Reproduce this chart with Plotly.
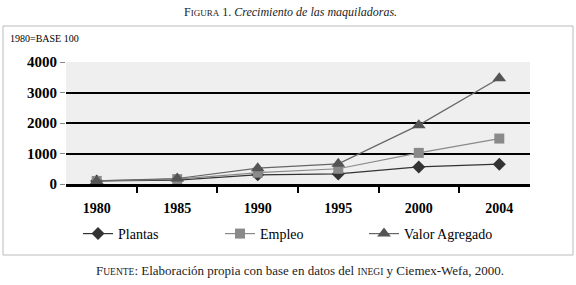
import plotly.graph_objects as go

years = ["1980", "1985", "1990", "1995", "2000", "2004"]
plantas = [100, 130, 300, 330, 560, 650]
empleo = [100, 160, 370, 500, 1020, 1490]
valor_agregado = [100, 180, 520, 660, 1930, 3470]
y_ticks = [0, 1000, 2000, 3000, 4000]

SERIF = "Liberation Serif, Times New Roman, serif"
L, R, T, B = 66, 46, 62, 101
PW, PH = 576 - L - R, 285 - T - B


def px_x(x):
    return (x - L) / PW


def px_y(y):
    return (285 - B - y) / PH


fig = go.Figure()
fig.add_trace(go.Scatter(x=years, y=plantas, name="Plantas", mode="lines+markers",
                         line=dict(color="#333333", width=1.2), legend="legend",
                         marker=dict(symbol="diamond", size=10, color="#333333")))
fig.add_trace(go.Scatter(x=years, y=empleo, name="Empleo", mode="lines+markers",
                         line=dict(color="#8a8a8a", width=1.2), legend="legend2",
                         marker=dict(symbol="square", size=10, color="#8a8a8a")))
fig.add_trace(go.Scatter(x=years, y=valor_agregado, name="Valor Agregado", mode="lines+markers",
                         line=dict(color="#666666", width=1.2), legend="legend3",
                         marker=dict(symbol="triangle-up", size=12, color="#555555")))

leg_common = dict(orientation="h", yanchor="middle", y=px_y(234), xanchor="left",
                  font=dict(family=SERIF, size=14, color="black"),
                  bgcolor="rgba(0,0,0,0)")

fig.update_layout(
    template="none",
    width=576, height=285,
    margin=dict(l=L, r=R, t=T, b=B, autoexpand=False),
    paper_bgcolor="white",
    plot_bgcolor="#efefef",
    font=dict(family=SERIF, color="black", size=13),
    showlegend=True,
    legend=dict(x=px_x(78), **leg_common),
    legend2=dict(x=px_x(220), **leg_common),
    legend3=dict(x=px_x(364), **leg_common),
    xaxis=dict(type="category", tickson="boundaries", ticks="outside", ticklen=6,
               tickwidth=2, tickcolor="black", showline=True, linecolor="black",
               linewidth=2.5, showgrid=False, ticklabelstandoff=9, automargin=False,
               tickfont=dict(family=SERIF, size=14, color="black", weight="bold")),
    yaxis=dict(range=[0, 4000], tickvals=y_ticks, ticks="outside", ticklen=5,
               tickwidth=1, tickcolor="#888888", automargin=False,
               showgrid=True, gridcolor="black", gridwidth=2,
               zeroline=True, zerolinecolor="black", zerolinewidth=3,
               showline=False,
               tickfont=dict(family=SERIF, size=15, color="black", weight="bold")),
)

# outer frame
fig.add_shape(type="rect", xref="paper", yref="paper",
              x0=px_x(3), x1=px_x(573), y0=px_y(255), y1=px_y(26),
              line=dict(color="#bbbbbb", width=1), fillcolor="rgba(0,0,0,0)", layer="below")

fig.add_annotation(xref="paper", yref="paper", x=px_x(290), y=px_y(12),
                   showarrow=False, xanchor="center", yanchor="middle",
                   text="F<span style='font-size:9px'>IGURA</span> 1. <i>Crecimiento de las maquiladoras.</i>",
                   font=dict(family=SERIF, size=12, color="#222222"))
fig.add_annotation(xref="paper", yref="paper", x=px_x(8), y=px_y(38),
                   showarrow=False, xanchor="left", yanchor="middle",
                   text="1980=BASE 100",
                   font=dict(family=SERIF, size=10, color="black"))
fig.add_annotation(xref="paper", yref="paper", x=px_x(300), y=px_y(270),
                   showarrow=False, xanchor="center", yanchor="middle",
                   text="F<span style='font-size:9.5px'>UENTE</span>: Elaboración propia con base en datos del <span style='font-size:9.5px'>INEGI</span> y Ciemex-Wefa, 2000.",
                   font=dict(family=SERIF, size=13, color="#222222"))

fig.write_html("out.html", config={"displayModeBar": False},
               post_script="document.body.style.margin='0';")
